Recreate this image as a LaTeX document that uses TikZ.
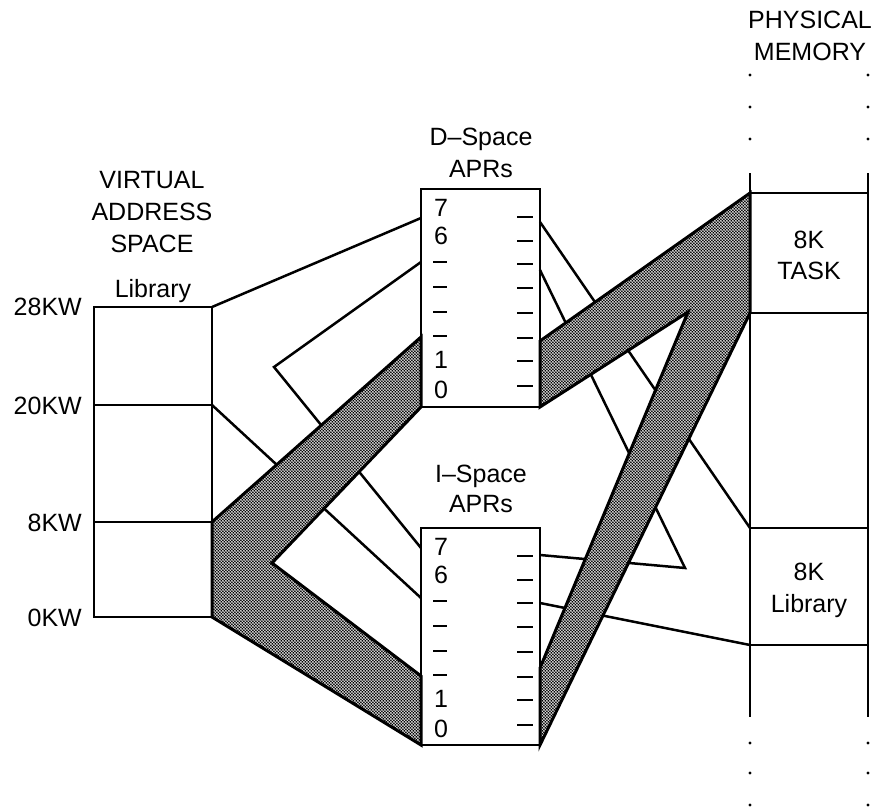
\documentclass[tikz,border=0pt]{standalone}
\usepackage{fontspec}
\setmainfont{Liberation Sans}
\usetikzlibrary{patterns}

% fine stipple used for the mapped regions
\pgfdeclarepatternformonly{stipple}{\pgfqpoint{-0.5pt}{-0.5pt}}{\pgfqpoint{3.5pt}{3.5pt}}{\pgfqpoint{3pt}{3pt}}{%
  \pgfpathcircle{\pgfqpoint{0.75pt}{0.75pt}}{1pt}%
  \pgfpathcircle{\pgfqpoint{2.25pt}{2.25pt}}{1pt}%
  \pgfusepath{fill}}

% rows of one APR register column (relative to the top edge of its box)
\newcommand\aprcolumn[1]{%
  \node[txt,anchor=center] (#1-7) at (441,19) {7};
  \node[txt,anchor=center] (#1-6) at (441,46.5) {6};
  \foreach \yy in {73,98,123,147} \draw[tick] (433,\yy) -- (447,\yy);
  \node[txt,anchor=center] (#1-1) at (441,170.5) {1};
  \node[txt,anchor=center] (#1-0) at (441,200.5) {0};
  \foreach \yy in {28,52,75,99,124,149,172,197} \draw[tick] (517,\yy) -- (533,\yy);
}

\begin{document}
\begin{tikzpicture}[x=1pt,y=-1pt,
  wire/.style={line width=2.5pt, line join=miter},
  frame/.style={line width=2.6pt},
  band/.style={draw, line width=3pt, line join=miter, preaction={fill=white}, pattern=stipple},
  txt/.style={font=\fontsize{25}{30}\selectfont, inner sep=0pt, anchor=base},
  dot/.style={circle, fill=black, inner sep=0pt, minimum size=3.2pt},
  tick/.style={line width=2.4pt}]

\useasboundingbox (0,0) rectangle (882,808);

% ---- key points ----
% virtual address space
\coordinate (val28) at (94,307);  \coordinate (va28) at (212,307);
\coordinate (val20) at (94,405);  \coordinate (va20) at (212,405);
\coordinate (val8)  at (94,522);  \coordinate (va8)  at (212,522);
\coordinate (val0)  at (94,617);  \coordinate (va0)  at (212,617);
% D-space APR box
\coordinate (dnw) at (421,189); \coordinate (dse) at (540,407);
\coordinate (dL6) at (421,218); \coordinate (dL5) at (421,262);
\coordinate (dL1) at (421,337); \coordinate (dLb) at (421,407);
\coordinate (dR7) at (540,222); \coordinate (dR6) at (540,270);
\coordinate (dR1) at (540,341); \coordinate (dRb) at (540,407);
% I-space APR box
\coordinate (inw) at (421,528); \coordinate (ise) at (540,745);
\coordinate (iL7) at (421,548); \coordinate (iL6) at (421,598);
\coordinate (iL1) at (421,676); \coordinate (iLb) at (421,745);
\coordinate (iR7) at (540,555); \coordinate (iR6) at (540,603);
\coordinate (iR1) at (540,668); \coordinate (iRb) at (540,745);
% physical memory
\coordinate (pmLtop) at (750,173); \coordinate (pmLbot) at (750,717);
\coordinate (pmRtop) at (868,173); \coordinate (pmRbot) at (868,717);
\coordinate (pmTaskTop) at (750,193); \coordinate (pmTaskTopR) at (868,193);
\coordinate (pmTaskBot) at (750,313); \coordinate (pmTaskBotR) at (868,313);
\coordinate (pmLibTop)  at (750,528); \coordinate (pmLibTopR)  at (868,528);
\coordinate (pmLibBot)  at (750,645); \coordinate (pmLibBotR)  at (868,645);
% bends
\coordinate (kB) at (274,367);
\coordinate (kE) at (685,568);
\coordinate (apexL) at (272,563);
\coordinate (apexR) at (688,312);

% ---- single-page mappings ----
\draw[wire] (va28) -- (dL6);
\draw[wire] (dL5) -- (kB) -- (iL7);
\draw[wire] (va20) -- (iL6);
\draw[wire] (dR7) -- (pmLibTop);
\draw[wire] (dR6) -- (kE) -- (iR7);
\draw[wire] (iR6) -- (pmLibBot);

% ---- shared 8K task region ----
\draw[band] (va8) -- (dL1) -- (dLb) -- (apexL) -- (iL1) -- (iLb) -- (va0) -- cycle;
\draw[band] (dR1) -- (pmTaskTop) -- (pmTaskBot) -- (iRb) -- (iR1) -- (apexR) -- (dRb) -- cycle;

% ---- virtual address space ----
\draw[frame] (val28) rectangle (va0);
\draw[frame] (val20) -- (va20);
\draw[frame] (val8) -- (va8);
\node[txt] (vt1) at (152,188) {VIRTUAL};
\node[txt] (vt2) at (152,220) {ADDRESS};
\node[txt] (vt3) at (152,252) {SPACE};
\node[txt] (vlib) at (153,297) {Library};
\node[txt,anchor=base east] (k28) at (82,315) {28KW};
\node[txt,anchor=base east] (k20) at (82,414) {20KW};
\node[txt,anchor=base east] (k8)  at (82,531) {8KW};
\node[txt,anchor=base east] (k0)  at (82,626) {0KW};

% ---- APR boxes ----
\draw[frame] (dnw) rectangle (dse);
\node[txt] (dt1) at (481,145) {D\textendash Space};
\node[txt] (dt2) at (481,177) {APRs};
\begin{scope}[shift={(0,189)}]\aprcolumn{d}\end{scope}

\draw[frame] (inw) rectangle (ise);
\node[txt] (it1) at (481,482) {I\textendash Space};
\node[txt] (it2) at (481,512) {APRs};
\begin{scope}[shift={(0,528)}]\aprcolumn{i}\end{scope}

% ---- physical memory ----
\draw[frame] (pmLtop) -- (pmLbot);
\draw[frame] (pmRtop) -- (pmRbot);
\draw[frame] (pmTaskTop) -- (pmTaskTopR);
\draw[frame] (pmTaskBot) -- (pmTaskBotR);
\draw[frame] (pmLibTop) -- (pmLibTopR);
\draw[frame] (pmLibBot) -- (pmLibBotR);
\node[txt] (pt1) at (810,29) {PHYSICAL};
\node[txt] (pt2) at (810,60) {MEMORY};
\node[txt] (tk1) at (809,248) {8K};
\node[txt] (tk2) at (809,279) {TASK};
\node[txt] (lb1) at (809,580) {8K};
\node[txt] (lb2) at (809,612) {Library};
\foreach \yy in {75,107,139,743,773,805}
  \foreach \xx in {750,868}
    \node[dot] (dot-\xx-\yy) at (\xx,\yy) {};
\end{tikzpicture}
\end{document}
